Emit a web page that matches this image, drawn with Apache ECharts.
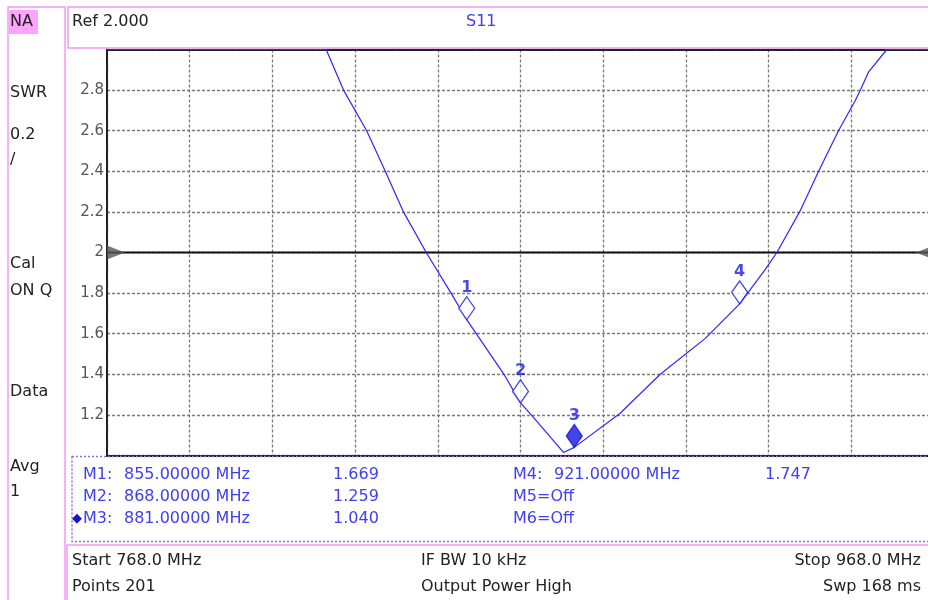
<!DOCTYPE html>
<html>
<head>
<meta charset="utf-8">
<title>S11 SWR</title>
<script src="https://cdn.jsdelivr.net/npm/echarts@6.0.0/dist/echarts.min.js"></script>
<style>
  html, body { margin: 0; padding: 0; background: #fff; }
  #chart { width: 928px; height: 600px; }
</style>
</head>
<body>
<div id="chart"></div>
<script>
// sweep
var START_MHZ = 768
var STOP_MHZ = 968
var REF_LEVEL = 2.0

// trace (values above 3.0 sit clamped on the top line)
var traceFreq = [768, 821.0, 825.2, 830.8, 835.3, 839.7, 845.2, 851.2, 855, 857.3, 864.0, 868, 870.6,
  878.4, 881, 892.1, 901.8, 912.7, 921, 927.2, 930.0, 935.5, 940.1, 944.9, 949.0, 950.2, 952.2, 956.6, 968]
var traceSwr = [3.0, 3.0, 2.8, 2.6, 2.4, 2.2, 2.0, 1.8, 1.669, 1.6, 1.4, 1.259, 1.2,
  1.015, 1.040, 1.208, 1.4, 1.577, 1.747, 1.917, 2.0, 2.2, 2.4, 2.6, 2.75, 2.8, 2.89, 3.0, 3.0]

// markers
var markerIds = ['1', '2', '3', '4']
var markerFreq = [855, 868, 881, 921]
var markerSwr = [1.669, 1.259, 1.040, 1.747]
var activeMarker = 2

var FONT = '"DejaVu Sans", Verdana, sans-serif'
var PINK = '#f29af2'
var BLUE = '#2828ff'
var TXT_BLUE = '#4040f2'

var chart = echarts.init(document.getElementById('chart'))

function txt(text, x, y, opt) {
  opt = opt || {}
  return {
    type: 'text',
    z: 10,
    style: {
      text: text,
      x: x,
      y: y,
      font: (opt.size || 16) + 'px ' + FONT,
      fill: opt.color || '#222',
      align: opt.align || 'left',
      verticalAlign: 'middle'
    }
  }
}

function box(x, y, w, h, color, dash) {
  return {
    type: 'rect',
    z: 5,
    shape: { x: x, y: y, width: w, height: h },
    style: { fill: null, stroke: color, lineWidth: 1.5, lineDash: dash || null }
  }
}

var graphics = [
  box(8, 7, 57, 600, PINK),
  box(68, 7, 870, 41, PINK),
  box(72, 456.5, 866, 85, '#9b6be0', [2, 2]),
  box(67, 545, 870, 60, PINK),
  { type: 'rect', z: 6, shape: { x: 9, y: 10, width: 29, height: 24 }, style: { fill: '#ffa3ff' } },
  txt('NA', 10, 22),
  txt('SWR', 10, 93),
  txt('0.2', 10, 135),
  txt('/', 10, 160),
  txt('Cal', 10, 264),
  txt('ON Q', 10, 291),
  txt('Data', 10, 392),
  txt('Avg', 10, 467),
  txt('1', 10, 492),
  txt('Ref ' + REF_LEVEL.toFixed(3), 72, 22),
  txt('S11', 466, 22, { color: TXT_BLUE }),
  txt('Start ' + START_MHZ.toFixed(1) + ' MHz', 72, 561),
  txt('Points 201', 72, 587),
  txt('IF BW 10 kHz', 421, 561),
  txt('Output Power High', 421, 587),
  txt('Stop ' + STOP_MHZ.toFixed(1) + ' MHz', 921, 561, { align: 'right' }),
  txt('Swp 168 ms', 921, 587, { align: 'right' })
]

// marker table, built from the marker arrays
var rowY = [475, 497, 518.5]
for (var i = 0; i < 6; i++) {
  var col = i < 3 ? 0 : 1
  var y = rowY[i % 3]
  var x0 = col === 0 ? 83 : 513
  if (i < markerFreq.length) {
    graphics.push(txt('M' + (i + 1) + ':', x0, y, { color: TXT_BLUE }))
    graphics.push(txt(markerFreq[i].toFixed(5) + ' MHz', x0 + 41, y, { color: TXT_BLUE }))
    graphics.push(txt(markerSwr[i].toFixed(3), col === 0 ? 333 : 765, y, { color: TXT_BLUE }))
    if (i === activeMarker) graphics.push(txt('\u25C6', 72, y, { color: '#1515c0', size: 13 }))
  } else {
    graphics.push(txt('M' + (i + 1) + '=Off', x0, y, { color: TXT_BLUE }))
  }
}

var dotted = { color: '#7a7a7a', width: 1.3, type: [3, 2] }

chart.setOption({
  animation: false,
  grid: { left: 107, top: 49.5, width: 827, height: 406, outerBoundsMode: 'none', containLabel: false },
  xAxis: [
    {
      type: 'value', min: START_MHZ, max: STOP_MHZ,
      axisLine: { show: true, lineStyle: { color: '#222', width: 2 } },
      axisTick: { show: false }, axisLabel: { show: false }, splitLine: { show: false }
    },
    {
      // ten horizontal divisions for the graticule
      type: 'value', min: 0, max: 10, interval: 1, position: 'top',
      axisLine: { show: true, onZero: false, lineStyle: { color: '#222', width: 2 } },
      axisTick: { show: false }, axisLabel: { show: false },
      splitLine: { show: true, lineStyle: dotted }
    }
  ],
  yAxis: {
    type: 'value', min: 1, max: 3, interval: 0.2,
    axisLine: { show: true, lineStyle: { color: '#222', width: 2 } },
    axisTick: { show: false },
    axisLabel: {
      margin: 3, color: '#555', fontSize: 15, fontFamily: FONT,
      formatter: function (v) { return (v <= 1.0001 || v >= 2.9999) ? '' : String(Math.round(v * 10) / 10) }
    },
    splitLine: { show: true, lineStyle: dotted }
  },
  graphic: graphics,
  series: [
    {
      name: 'ref', type: 'line', z: 1, symbol: 'none', silent: true,
      data: [[START_MHZ, REF_LEVEL], [STOP_MHZ, REF_LEVEL]],
      lineStyle: { color: '#111', width: 2 }
    },
    {
      name: 'refArrows', type: 'scatter', z: 3, silent: true,
      data: [
        { value: [START_MHZ, REF_LEVEL], symbolRotate: -90, symbolOffset: [9, 0] },
        { value: [STOP_MHZ, REF_LEVEL], symbolRotate: 90, symbolOffset: [-9, 0] }
      ],
      symbol: 'triangle', symbolSize: [14, 18],
      itemStyle: { color: '#555' }
    },
    {
      name: 'S11', type: 'line', z: 4, symbol: 'none', clip: false,
      data: traceFreq.map(function (f, k) { return [f, traceSwr[k]] }),
      lineStyle: { color: BLUE, width: 1.2 }
    },
    {
      name: 'markers', type: 'scatter', z: 5,
      data: markerFreq.map(function (f, k) {
        return {
          value: [f, markerSwr[k]],
          name: markerIds[k],
          itemStyle: k === activeMarker ? { color: '#1515e6', borderColor: '#1515e6' } : { color: '#fff', borderColor: '#1a1ae6' }
        }
      }),
      symbol: 'diamond', symbolSize: [16, 23], symbolOffset: [0, -11.5],
      itemStyle: { borderWidth: 1.3 },
      label: {
        show: true, position: 'top', distance: 0,
        formatter: '{b}', color: '#1a1ae6', fontSize: 16, fontWeight: 'bold', fontFamily: FONT
      }
    }
  ]
})
</script>
</body>
</html>
